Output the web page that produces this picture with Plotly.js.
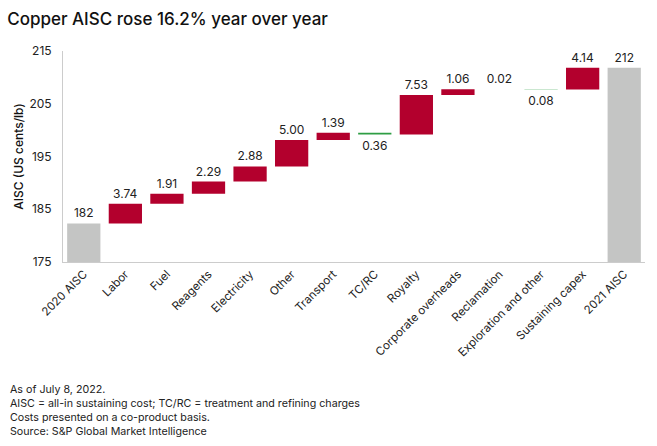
<!DOCTYPE html>
<html><head><meta charset="utf-8">
<script src="https://cdn.plot.ly/plotly-3.0.1.min.js"></script>
<style>html,body{margin:0;padding:0;background:#fff;}#chart{width:657px;height:446px;}</style>
</head><body><div id="chart"></div>
<script>
var categories = ["2020 AISC","Labor","Fuel","Reagents","Electricity","Other","Transport","TC/RC","Royalty","Corporate overheads","Reclamation","Exploration and other","Sustaining capex","2021 AISC"];
var values = [182.3, 3.74, 1.91, 2.29, 2.88, 5.00, 1.39, -0.36, 7.53, 1.06, 0.02, -0.08, 4.14, 0];
var measures = ["absolute","relative","relative","relative","relative","relative","relative","relative","relative","relative","relative","relative","relative","total"];
var labels = ["182","3.74","1.91","2.29","2.88","5.00","1.39","0.36","7.53","1.06","0.02","0.08","4.14","212"];
var yTicks = [175, 185, 195, 205, 215];

var trace = {
  type: "waterfall",
  x: categories,
  y: values,
  measure: measures,
  text: labels,
  textposition: "outside",
  textfont: {family: "Inter, Roboto, sans-serif", size: 12, color: "#222"},
  cliponaxis: false,
  increasing: {marker: {color: "#B3002D"}},
  decreasing: {marker: {color: "#2E9E44"}},
  totals: {marker: {color: "#C4C5C4"}},
  connector: {visible: false},
  hoverinfo: "none"
};

var layout = {
  width: 657, height: 446,
  margin: {l: 63, r: 12, t: 51, b: 184},
  paper_bgcolor: "#fff", plot_bgcolor: "#fff",
  showlegend: false,
  bargap: 0.45,
  font: {family: "Inter, Roboto, sans-serif", size: 12, color: "#222"},
  title: {text: "Copper AISC rose 16.2% year over year", x: 0.011, xanchor: "left", y: 0.957, yanchor: "middle",
          font: {family: "Inter, Roboto, sans-serif", size: 17, weight: 500, color: "#111"}},
  xaxis: {
    type: "category", tickangle: -45, showgrid: false, zeroline: false,
    showline: true, linecolor: "#CCCCCC", linewidth: 1, ticks: "",
    tickfont: {family: "Inter, Roboto, sans-serif", size: 11.5, color: "#222"}
  },
  yaxis: {
    range: [175, 215], tickvals: yTicks, ticktext: yTicks.map(String),
    showgrid: false, zeroline: false, showline: true, linecolor: "#CCCCCC", linewidth: 1,
    ticks: "", ticklabelstandoff: 8,
    tickfont: {family: "Inter, Roboto, sans-serif", size: 12, color: "#222"},
    title: {text: "AISC (US cents/lb)", standoff: 3, font: {family: "Inter, Roboto, sans-serif", size: 12, weight: 500, color: "#111"}}
  },
  annotations: [
    {text: "As of July 8, 2022.<br>AISC = all-in sustaining cost; TC/RC = treatment and refining charges<br>Costs presented on a co-product basis.<br>Source: S&P Global Market Intelligence",
     xref: "paper", yref: "paper", x: -0.095, y: -0.565, xanchor: "left", yanchor: "top", align: "left", showarrow: false,
     font: {family: "Inter, Roboto, sans-serif", size: 10.7, color: "#222"}}
  ]
};

Plotly.newPlot("chart", [trace], layout, {displayModeBar: false, staticPlot: true});
</script></body></html>
